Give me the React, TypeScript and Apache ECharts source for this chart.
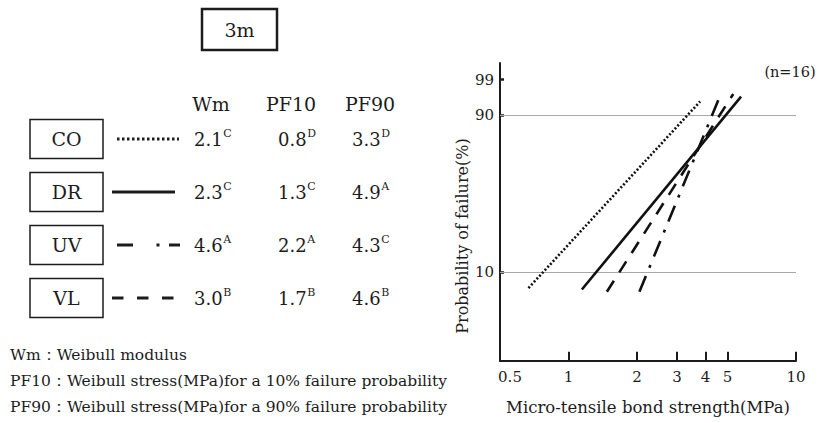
import React, { useEffect, useRef } from "react";
import * as echarts from "echarts";

// ---- data ----
const groups = ["CO", "DR", "UV", "VL"];
const wmValues = ["2.1", "2.3", "4.6", "3.0"];
const wmLetters = ["C", "C", "A", "B"];
const pf10Values = ["0.8", "1.3", "2.2", "1.7"];
const pf10Letters = ["D", "C", "A", "B"];
const pf90Values = ["3.3", "4.9", "4.3", "4.6"];
const pf90Letters = ["D", "A", "C", "B"];

// fitted Weibull lines: strength (MPa) and probability of failure (%) at both ends
const strengthStart = [0.667, 1.145, 2.05, 1.475];
const strengthEnd = [3.79, 5.735, 4.64, 5.3];
const probStart = [7.4, 7.2, 6.9, 6.9];
const probEnd = [95.0, 96.3, 96.5, 96.9];

const xTickValues = [1, 2, 3, 4, 5, 10];
const xLabelValues = [0.5, 1, 2, 3, 4, 5, 10];
const yTickValues = [10, 90, 99];
const yGridValues = [10, 90];
const xRange = [0.5, 10];
const yRange = [1.83, 99.83];

const FONT = "DejaVu Serif";
const INK = "#1c1c1c";

const L = (x: number) => Math.log10(x);
const W = (p: number) => Math.log(-Math.log(1 - p / 100));
const Winv = (w: number) => 100 * (1 - Math.exp(-Math.exp(w)));

const dashTypes: any[] = [[2, 2], "solid", [17, 9, 3, 9], [13, 10]];

let measureCtx: CanvasRenderingContext2D | null = null;
function textWidth(t: string, size: number) {
  if (!measureCtx) measureCtx = document.createElement("canvas").getContext("2d");
  measureCtx!.font = `${size}px "${FONT}"`;
  return measureCtx!.measureText(t).width;
}

export default function App() {
  const ref = useRef<HTMLDivElement>(null);
  useEffect(() => {
    const chart = echarts.init(ref.current!, undefined, { renderer: "svg" });

    const rowY = [139, 192, 245, 298];
    const graphics: any[] = [];
    const txt = (x: number, y: number, text: string, size: number, align = "center", extra: any = {}) => ({
      type: "text",
      x,
      y,
      style: { text, fontFamily: FONT, fontSize: size, fill: INK, align, verticalAlign: "middle", ...extra },
    });

    // title box
    graphics.push({
      type: "rect",
      shape: { x: 202, y: 9, width: 75, height: 41 },
      style: { fill: "none", stroke: INK, lineWidth: 2.5 },
    });
    graphics.push(txt(239.5, 30, "3m", 19));

    // headers
    graphics.push(txt(211, 104, "Wm", 19));
    graphics.push(txt(291, 104, "PF10", 19));
    graphics.push(txt(370, 104, "PF90", 19));

    const VAL = 18;
    const SUP = 11;
    const sup = (x: number, y: number, v: string, s: string) => {
      graphics.push(txt(x, y, v, VAL, "left"));
      graphics.push(txt(x + textWidth(v, VAL) + 0.5, y - 5.5, s, SUP, "left"));
    };

    groups.forEach((g, i) => {
      const y = rowY[i];
      graphics.push({
        type: "rect",
        shape: { x: 30, y: y - 19.5, width: 73, height: 39 },
        style: { fill: "none", stroke: INK, lineWidth: 1.5 },
      });
      graphics.push(txt(66.5, y, g, 19));
      sup(194, y, wmValues[i], wmLetters[i]);
      sup(278, y, pf10Values[i], pf10Letters[i]);
      sup(352, y, pf90Values[i], pf90Letters[i]);
    });

    // legend samples
    const seg = (x1: number, x2: number, y: number, dash?: number[]) => ({
      type: "line",
      shape: { x1, y1: y, x2, y2: y },
      style: { stroke: INK, lineWidth: 3, lineDash: dash, lineCap: "butt" },
    });
    graphics.push(seg(117, 179, rowY[0], [2.5, 2.5]));
    graphics.push(seg(112, 175, rowY[1]));
    graphics.push(seg(117, 133, rowY[2]));
    graphics.push(seg(156.5, 159.5, rowY[2]));
    graphics.push(seg(169, 180, rowY[2]));
    graphics.push(seg(112, 175, rowY[3], [11.5, 13.5]));

    // footnotes
    graphics.push(txt(10, 355, "Wm：Weibull modulus", 15.5, "left"));
    graphics.push(txt(10, 381, "PF10：Weibull stress(MPa)for a 10% failure probability", 15.5, "left"));
    graphics.push(txt(10, 407, "PF90：Weibull stress(MPa)for a 90% failure probability", 15.5, "left"));

    // y axis title and n
    graphics.push({
      type: "text",
      x: 462,
      y: 236,
      rotation: Math.PI / 2,
      style: { text: "Probability of failure(%)", fontFamily: FONT, fontSize: 16, fill: INK, align: "center", verticalAlign: "middle" },
    });
    graphics.push(txt(790, 72, "(n=16)", 14.5));

    const series: any[] = groups.map((g, i) => ({
      name: g,
      type: "line",
      showSymbol: false,
      symbol: "none",
      silent: true,
      data: [
        [L(strengthStart[i]), W(probStart[i])],
        [L(strengthEnd[i]), W(probEnd[i])],
      ],
      lineStyle: { color: "#111", width: 2.6, type: dashTypes[i], cap: "butt" },
      z: 3,
    }));
    series[0].markLine = {
      silent: true,
      symbol: ["none", "none"],
      label: { show: false },
      lineStyle: { color: "#a8a8a8", width: 1, type: "solid" },
      data: yGridValues.map((p) => ({ yAxis: W(p) })),
      z: 1,
    };

    chart.setOption({
      animation: false,
      grid: { left: 500, top: 63, width: 296, height: 297.7, containLabel: false },
      xAxis: {
        type: "value",
        min: L(xRange[0]),
        max: L(xRange[1]),
        axisLine: { onZero: false, lineStyle: { color: INK, width: 2 } },
        axisTick: { show: true, inside: true, length: 9, lineStyle: { color: INK, width: 2 }, customValues: xTickValues.map(L) },
        axisLabel: {
          customValues: xLabelValues.map(L),
          margin: 9,
          color: INK,
          fontFamily: FONT,
          fontSize: 15,
          formatter: (v: number) => {
            const r = Math.round(Math.pow(10, v) * 10) / 10;
            return r === 0.5 ? "{a|0.5}" : String(r);
          },
          rich: { a: { fontFamily: FONT, fontSize: 15, color: INK, padding: [0, 0, 0, 20] } },
        },
        splitLine: { show: false },
        name: "Micro-tensile bond strength(MPa)",
        nameLocation: "middle",
        nameGap: 38,
        nameTextStyle: { fontFamily: FONT, fontSize: 16.5, color: INK },
      },
      yAxis: {
        type: "value",
        min: W(yRange[0]),
        max: W(yRange[1]),
        axisLine: { show: true, onZero: false, lineStyle: { color: INK, width: 2 } },
        axisTick: { show: true, inside: true, length: 4, lineStyle: { color: INK, width: 2.5 }, customValues: yTickValues.map(W) },
        axisLabel: {
          customValues: yTickValues.map(W),
          margin: 6,
          color: INK,
          fontFamily: FONT,
          fontSize: 15,
          formatter: (v: number) => String(Math.round(Winv(v))),
        },
        splitLine: { show: false },
      },
      series,
      graphic: graphics,
    });
    return () => chart.dispose();
  }, []);
  return <div ref={ref} style={{ position: "fixed", left: 0, top: 0, width: 825, height: 423, background: "#fff" }} />;
}
